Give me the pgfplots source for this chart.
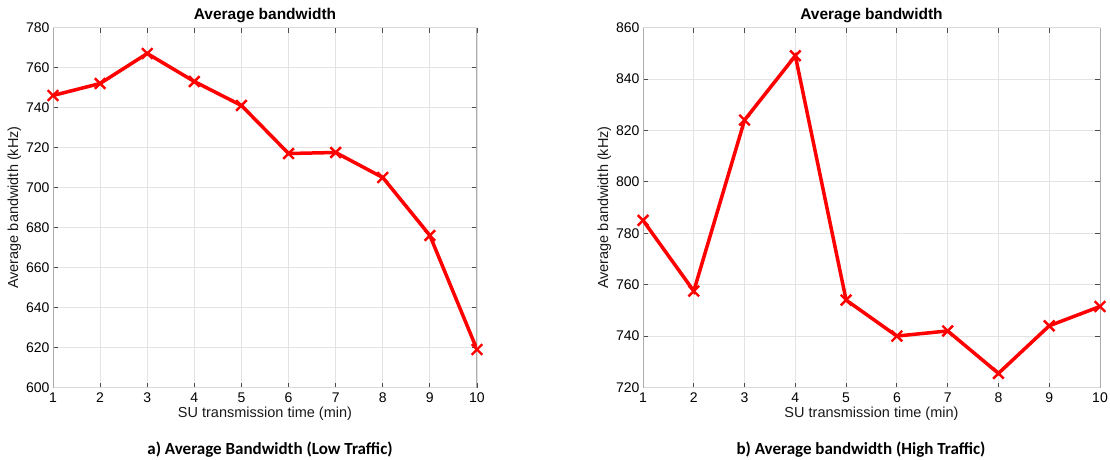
\documentclass[border=0pt]{standalone}
\usepackage{fontspec}
\setmainfont{Liberation Sans}
\newfontfamily\capfont{Carlito}
\usepackage{pgfplots}
\pgfplotsset{compat=1.18}

\pgfplotsset{bw/.style={
    scale only axis, anchor=south west, height=360pt,
    xmin=1, xmax=10, xtick={1,...,10},
    grid=major, grid style={gray!22, line width=0.8pt},
    separate axis lines,
    x axis line style={gray!30, line width=0.8pt},
    y axis line style={gray!65, line width=1pt},
    tick align=inside, major tick length=5pt,
    tick style={gray!60!black, line width=0.8pt},
    ticklabel style={font=\fontsize{14}{16}\selectfont, text=black},
    xticklabel style={yshift=-2pt},
    /pgf/number format/assume math mode=true,
    /pgf/number format/1000 sep={},
    xlabel={SU transmission time (min)},
    ylabel={Average bandwidth (kHz)},
    label style={font=\fontsize{14.5}{16}\selectfont, text=black!90},
    xlabel style={yshift=3pt},
    ylabel style={yshift=-2pt},
    title={\textbf{Average bandwidth}},
    title style={font=\fontsize{15.5}{17}\selectfont, yshift=-5pt},
  },
  redline/.style={red, line width=3.5pt, mark=x, mark size=7.5pt,
    mark options={line width=2.4pt, solid}},
}

\begin{document}
\begin{tikzpicture}
  \useasboundingbox (0,0) rectangle (1110pt,459pt);

  % a) low traffic
  \begin{axis}[bw, at={(53pt,71.5pt)}, width=424pt,
      ymin=600, ymax=780, ytick={600,620,...,780}]
    \addplot[redline] coordinates {(1,746) (2,752) (3,767) (4,753) (5,741)
      (6,717) (7,717.5) (8,705) (9,676) (10,619)};
  \end{axis}

  % b) high traffic
  \begin{axis}[bw, at={(643pt,71.5pt)}, width=457pt,
      ymin=720, ymax=860, ytick={720,740,...,860}]
    \addplot[redline] coordinates {(1,785) (2,757.5) (3,824) (4,849) (5,754)
      (6,740) (7,742) (8,725.5) (9,744) (10,751.5)};
  \end{axis}

  \node[font=\capfont\bfseries\fontsize{17}{19}\selectfont] at (270pt,9pt)
    {a) Average Bandwidth (Low Traffic)};
  \node[font=\capfont\bfseries\fontsize{17}{19}\selectfont] at (861pt,9pt)
    {b) Average bandwidth (High Traffic)};
\end{tikzpicture}
\end{document}
